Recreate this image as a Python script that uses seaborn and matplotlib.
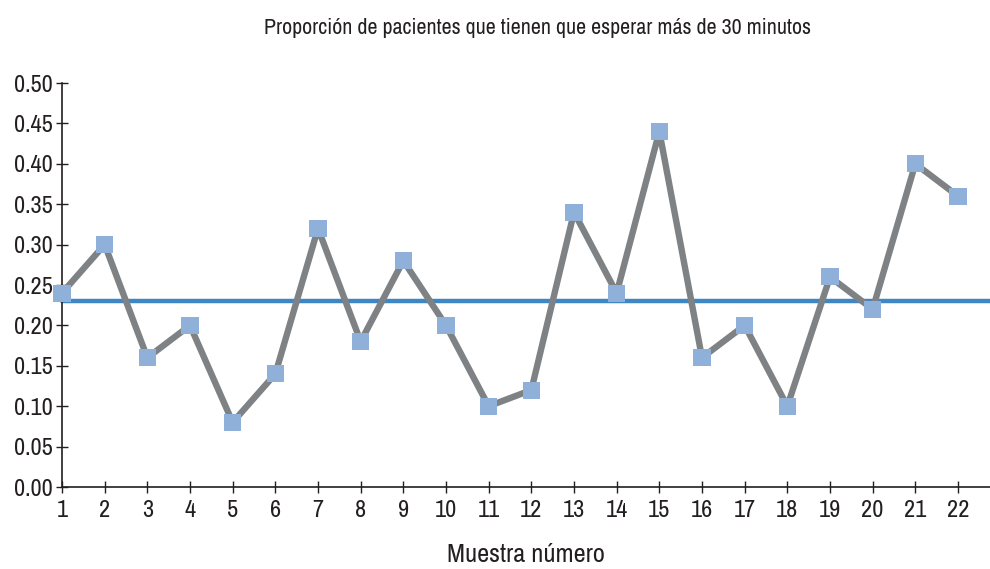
import matplotlib
matplotlib.use('Agg')
import matplotlib.pyplot as plt
import seaborn as sns
import pandas as pd
from matplotlib import font_manager

# data
muestra = list(range(1, 23))
proporcion = [0.24, 0.30, 0.16, 0.20, 0.08, 0.14, 0.32, 0.18, 0.28, 0.20, 0.10,
              0.12, 0.34, 0.24, 0.44, 0.16, 0.20, 0.10, 0.26, 0.22, 0.40, 0.36]
linea_central = 0.23
y_ticks = [0.00, 0.05, 0.10, 0.15, 0.20, 0.25, 0.30, 0.35, 0.40, 0.45, 0.50]

df = pd.DataFrame({'muestra': muestra, 'proporcion': proporcion})

sns.set_theme(style='ticks')

# pick a narrow / condensed font if one is installed
fam, stretch = 'DejaVu Sans', 'normal'
for f in font_manager.fontManager.ttflist:
    if 'Narrow' in f.name and f.style == 'normal' and f.weight in (400, 'normal'):
        fam, stretch = f.name, 'normal'
        break
else:
    for f in font_manager.fontManager.ttflist:
        if str(f.stretch) in ('condensed', 'semi-condensed') and f.style == 'normal':
            fam, stretch = f.name, f.stretch
            break
plt.rcParams['font.family'] = [fam, 'DejaVu Sans']
plt.rcParams['font.stretch'] = stretch

fig = plt.figure(figsize=(9.9, 5.69), dpi=100)
ax = fig.add_axes([62 / 990, 1 - 487 / 569, 1 - 62 / 990, (487 - 83) / 569])

ax.axhline(linea_central, color='#3F86C4', lw=3.2, zorder=1, clip_on=False)
sns.lineplot(data=df, x='muestra', y='proporcion', ax=ax, color='#7F8285',
             lw=4.6, zorder=2, clip_on=False)
sns.scatterplot(data=df, x='muestra', y='proporcion', ax=ax, marker='s',
                s=150, color='#8FB0D8', edgecolor='none', zorder=3, clip_on=False)

ax.set_xlim(1, 22.75)
ax.set_ylim(0, 0.5)
ax.set_xticks(muestra)
ax.set_yticks(y_ticks)
ax.set_yticklabels([f'{v:.2f}' for v in y_ticks])
for s in ['top', 'right']:
    ax.spines[s].set_visible(False)
for s in ['left', 'bottom']:
    ax.spines[s].set_color('#231F20')
    ax.spines[s].set_linewidth(1.2)
ax.tick_params(axis='both', direction='inout', length=9, width=1,
               color='#231F20', labelsize=17.5, labelcolor='#231F20', pad=5)
ax.tick_params(axis='y', pad=2)

ax.set_xlabel('Muestra número', fontsize=19, color='#231F20', labelpad=16)
ax.set_ylabel('')
fig.text(0.543, 1 - 28 / 569,
         'Proporción de pacientes que tienen que esperar más de 30 minutos',
         ha='center', va='center', fontsize=15.8, color='#231F20')

fig.savefig('out.png', dpi=100)
